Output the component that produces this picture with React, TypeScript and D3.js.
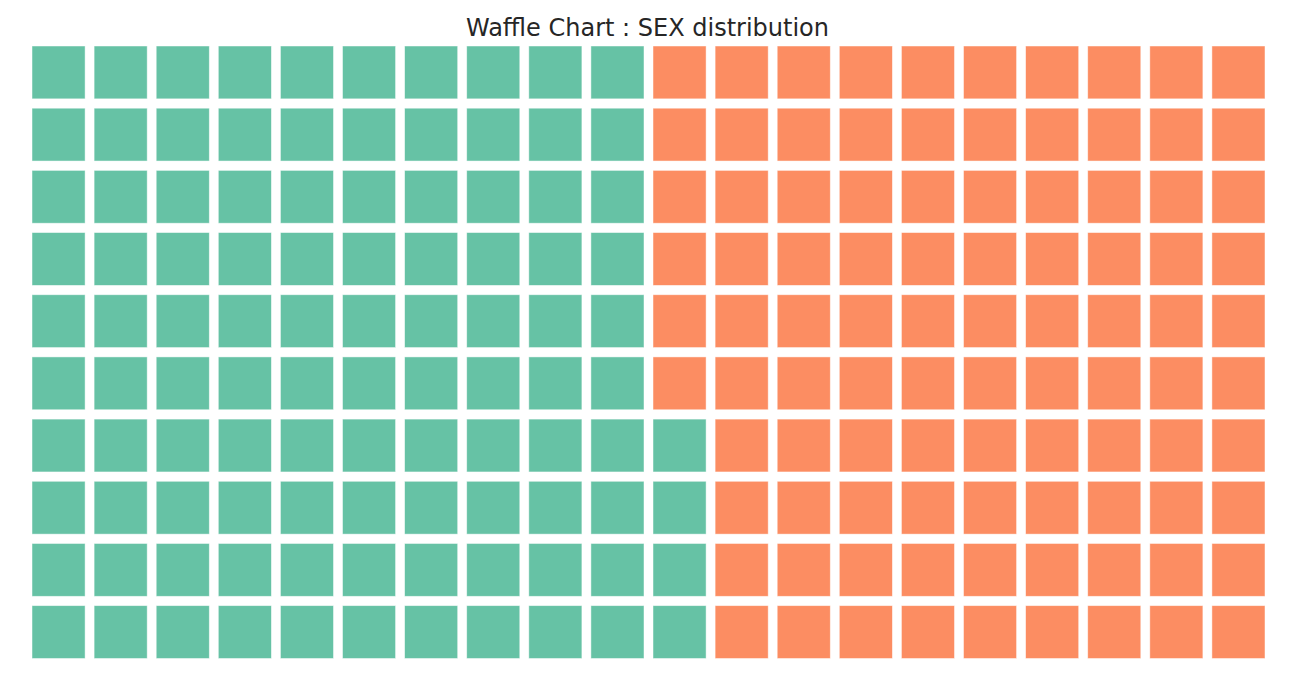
import { scaleBand, scaleOrdinal, range } from 'd3'

// Waffle chart: 20 x 10 grid, cells filled column by column from the bottom-left.

const categories = ['Male', 'Female']
const counts = [104, 96]
const colors = ['#66c2a5', '#fc8d62']
const title = 'Waffle Chart : SEX distribution'

const NCOLS = 20
const NROWS = 10

export default function App() {
  const width = 1308
  const height = 698

  const x = scaleBand<number>().domain(range(NCOLS)).range([32, 1265]).paddingInner(0.145)
  const y = scaleBand<number>().domain(range(NROWS)).range([46, 658.5]).paddingInner(0.15)
  const color = scaleOrdinal<string, string>().domain(categories).range(colors)

  // expand counts into a flat list of category labels, one per cell
  const cells: string[] = []
  categories.forEach((c, i) => {
    for (let k = 0; k < counts[i]; k++) cells.push(c)
  })

  return (
    <svg
      width={width}
      height={height}
      style={{ position: 'absolute', left: 0, top: 0, background: '#fff' }}
      fontFamily="DejaVu Sans, sans-serif"
    >
      <text x={647.5} y={36} textAnchor="middle" fontSize={24} fill="#262626">
        {title}
      </text>
      {cells.map((c, i) => {
        const col = Math.floor(i / NROWS)
        const row = NROWS - 1 - (i % NROWS)
        return (
          <rect
            key={i}
            x={x(col)}
            y={y(row)}
            width={x.bandwidth()}
            height={y.bandwidth()}
            fill={color(c)}
            stroke="#ffffff"
            strokeOpacity={0.6}
            strokeWidth={0.8}
          />
        )
      })}
    </svg>
  )
}
